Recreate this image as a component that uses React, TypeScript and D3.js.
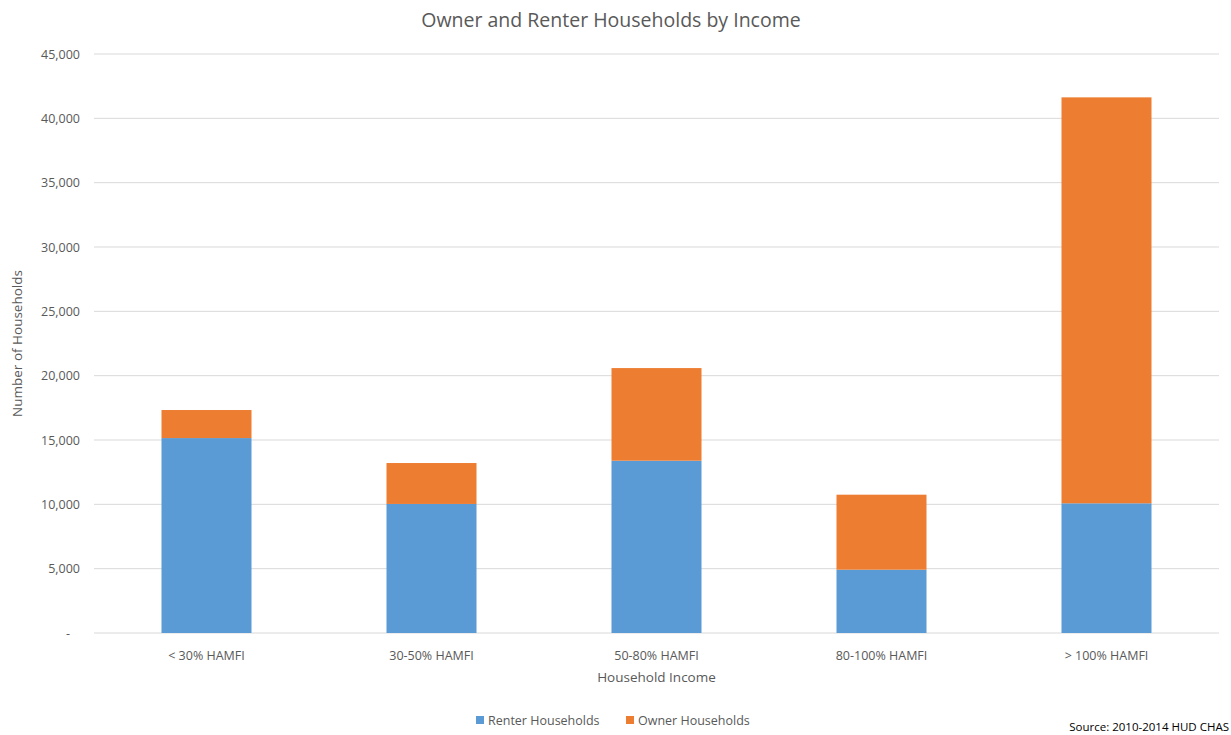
import React from "react";
import * as d3 from "d3";

const categories = ["< 30% HAMFI", "30-50% HAMFI", "50-80% HAMFI", "80-100% HAMFI", "> 100% HAMFI"];
const renterValues = [15150, 10030, 13390, 4920, 10080];
const ownerValues = [2180, 3180, 7200, 5830, 31550];
const yTicks = [0, 5000, 10000, 15000, 20000, 25000, 30000, 35000, 40000, 45000];
const seriesNames = ["Renter Households", "Owner Households"];
const seriesColors = ["#5B9BD5", "#ED7D31"];

const W = 1231;
const H = 735;
const FONT = "'Open Sans', 'Noto Sans', sans-serif";
const TEXT = "#595959";

export default function App() {
  const left = 94, right = 1219, top = 54, bottom = 633;
  const x = d3.scaleBand<string>().domain(categories).range([left, right]).paddingInner(0.6).paddingOuter(0.3);
  const y = d3.scaleLinear().domain([0, 45000]).range([bottom, top]);
  const rows = categories.map((c, i) => ({ cat: c, renter: renterValues[i], owner: ownerValues[i] }));
  const stack = d3.stack<any>().keys(["renter", "owner"])(rows);
  const fmt = d3.format(",");

  return (
    <svg width={W} height={H} style={{ position: "fixed", left: 0, top: 0, background: "#fff" }} fontFamily={FONT}>
      <rect x={0} y={0} width={W} height={H} fill="#fff" />
      <text x={611} y={27} textAnchor="middle" fontSize={19.5} fill={TEXT}>
        Owner and Renter Households by Income
      </text>
      {yTicks.map((t) => (
        <g key={t}>
          <line x1={left} x2={right} y1={y(t)} y2={y(t)} stroke="#d9d9d9" strokeWidth={1} />
          <text x={t === 0 ? 70 : 80} y={y(t) + 4.5} textAnchor="end" fontSize={12.5} fill={TEXT}>
            {t === 0 ? "-" : fmt(t)}
          </text>
        </g>
      ))}
      {stack.map((s, si) => (
        <g key={si} fill={seriesColors[si]}>
          {s.map((d: any, i: number) => (
            <rect key={i} x={x(categories[i])!} width={x.bandwidth()} y={y(d[1])} height={y(d[0]) - y(d[1])} />
          ))}
        </g>
      ))}
      {categories.map((c) => (
        <text key={c} x={x(c)! + x.bandwidth() / 2} y={660} textAnchor="middle" fontSize={12.5} fill={TEXT}>
          {c}
        </text>
      ))}
      <text x={(left + right) / 2} y={682} textAnchor="middle" fontSize={13.5} fill={TEXT}>
        Household Income
      </text>
      <text transform={`translate(22, ${(top + bottom) / 2}) rotate(-90)`} textAnchor="middle" fontSize={13.5} fill={TEXT}>
        Number of Households
      </text>
      {seriesNames.map((n, i) => (
        <g key={n} transform={`translate(${i === 0 ? 476 : 626}, 720)`}>
          <rect x={0} y={-4} width={8} height={8} fill={seriesColors[i]} />
          <text x={12} y={4.5} fontSize={12.5} fill={TEXT}>{n}</text>
        </g>
      ))}
      <text x={1229} y={731} textAnchor="end" fontSize={11.5} fill="#000">
        Source: 2010-2014 HUD CHAS
      </text>
    </svg>
  );
}
